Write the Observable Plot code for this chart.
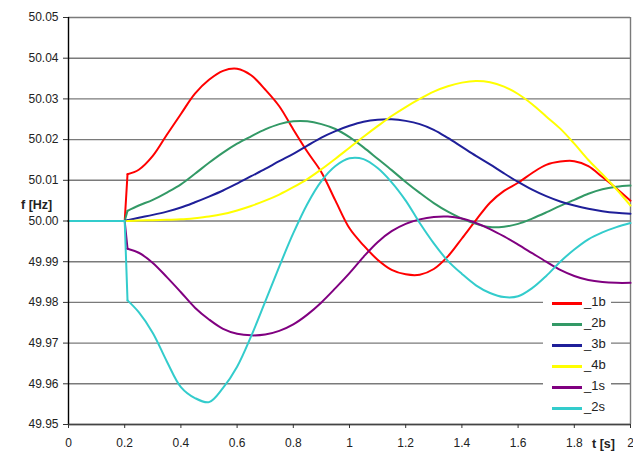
<!DOCTYPE html>
<html>
<head>
<meta charset="utf-8">
<script src="https://cdn.jsdelivr.net/npm/d3@7"></script>
<script src="https://cdn.jsdelivr.net/npm/@observablehq/plot@0.6"></script>
<style>
  html, body { margin: 0; padding: 0; background: #fff; }
  #wrap { position: relative; width: 633px; height: 452px; font-family: "Liberation Sans", Arial, sans-serif; color: #222; }
  #wrap svg { display: block; }
  #legend { position: absolute; left: 543px; top: 292px; width: 68px; height: 127px; background: #fff; }
  .lg-item { position: absolute; left: 0; width: 68px; height: 20px; }
  .lg-line { position: absolute; left: 9px; top: 9px; width: 30px; height: 2.5px; }
  .lg-text { position: absolute; left: 41px; top: 1px; font-size: 13px; line-height: 16px; color: #222; }
  .axis-title { position: absolute; font-weight: bold; font-size: 12.5px; color: #222; }
</style>
</head>
<body>
<div id="wrap">
  <div id="chart"></div>
  <div id="legend"></div>
  <div class="axis-title" style="left:21px; top:198px;">f [Hz]</div>
  <div class="axis-title" style="left:592px; top:437px;">t [s]</div>
</div>
<script>
// time axis (s)
const time = [0, 0.2, 0.21, 0.25, 0.3, 0.35, 0.4, 0.45, 0.5, 0.55, 0.6, 0.65, 0.7, 0.75, 0.8, 0.85, 0.9, 0.95,
  1.0, 1.05, 1.1, 1.15, 1.2, 1.25, 1.3, 1.35, 1.4, 1.45, 1.5, 1.55, 1.6, 1.65, 1.7, 1.75, 1.8, 1.85, 1.9, 1.95, 2.0];
const stepTime = 0.21; // end of the step change after the disturbance at 0.2 s

// frequency series (Hz)
const f1b = [50.0000, 50.0000, 50.0115, 50.0126, 50.0160, 50.0212, 50.0263, 50.0313, 50.0347, 50.0369, 50.0374, 50.0358,
  50.0323, 50.0282, 50.0225, 50.0170, 50.0120, 50.0050, 49.9982, 49.9940, 49.9905, 49.9880, 49.9869, 49.9868,
  49.9882, 49.9913, 49.9957, 50.0002, 50.0045, 50.0074, 50.0094, 50.0118, 50.0138, 50.0146, 50.0147, 50.0135,
  50.0108, 50.0080, 50.0050];
const f2b = [50.0000, 50.0000, 50.0025, 50.0038, 50.0052, 50.0070, 50.0090, 50.0116, 50.0143, 50.0168, 50.0190, 50.0208,
  50.0225, 50.0238, 50.0245, 50.0245, 50.0238, 50.0226, 50.0206, 50.0181, 50.0153, 50.0125, 50.0096, 50.0069,
  50.0044, 50.0023, 50.0006, 49.9993, 49.9985, 49.9986, 49.9993, 50.0006, 50.0021, 50.0037, 50.0052, 50.0067,
  50.0078, 50.0084, 50.0087];
const f3b = [50.0000, 50.0000, 50.0002, 50.0008, 50.0015, 50.0023, 50.0033, 50.0046, 50.0060, 50.0075, 50.0092, 50.0110,
  50.0128, 50.0147, 50.0165, 50.0185, 50.0205, 50.0221, 50.0234, 50.0244, 50.0249, 50.0250, 50.0246, 50.0238,
  50.0224, 50.0204, 50.0182, 50.0160, 50.0139, 50.0117, 50.0096, 50.0077, 50.0061, 50.0048, 50.0038, 50.0030,
  50.0024, 50.0020, 50.0018];
const f4b = [50.0000, 50.0000, 50.0000, 50.0001, 50.0002, 50.0003, 50.0004, 50.0007, 50.0011, 50.0017, 50.0026, 50.0037,
  50.0050, 50.0065, 50.0083, 50.0103, 50.0127, 50.0153, 50.0180, 50.0207, 50.0233, 50.0258, 50.0280, 50.0300,
  50.0318, 50.0331, 50.0340, 50.0344, 50.0341, 50.0330, 50.0312, 50.0287, 50.0257, 50.0227, 50.0190, 50.0150,
  50.0115, 50.0078, 50.0038];
const f1s = [50.0000, 50.0000, 49.9932, 49.9922, 49.9897, 49.9862, 49.9825, 49.9787, 49.9758, 49.9735, 49.9723, 49.9719,
  49.9721, 49.9730, 49.9746, 49.9770, 49.9800, 49.9835, 49.9872, 49.9912, 49.9948, 49.9975, 49.9993, 50.0004,
  50.0010, 50.0011, 50.0006, 49.9995, 49.9980, 49.9962, 49.9942, 49.9921, 49.9900, 49.9880, 49.9865, 49.9855,
  49.9850, 49.9848, 49.9848];
const f2s = [50.0000, 50.0000, 49.9805, 49.9776, 49.9725, 49.9655, 49.9592, 49.9565, 49.9555, 49.9590, 49.9642, 49.9717,
  49.9802, 49.9888, 49.9970, 50.0042, 50.0098, 50.0135, 50.0154, 50.0152, 50.0130, 50.0095, 50.0050, 49.9995,
  49.9945, 49.9902, 49.9870, 49.9842, 49.9823, 49.9813, 49.9815, 49.9835, 49.9865, 49.9900, 49.9930, 49.9955,
  49.9972, 49.9985, 49.9995];

const seriesNames = ["_1b", "_2b", "_3b", "_4b", "_1s", "_2s"];
const seriesColors = ["#ff0000", "#339966", "#1f1f99", "#ffff00", "#800080", "#33cccc"];
const seriesValues = [f1b, f2b, f3b, f4b, f1s, f2s];

const xTicks = [0, 0.2, 0.4, 0.6, 0.8, 1, 1.2, 1.4, 1.6, 1.8, 2];
const yTicks = [49.95, 49.96, 49.97, 49.98, 49.99, 50.00, 50.01, 50.02, 50.03, 50.04, 50.05];

const rows = [];
seriesNames.forEach((name, i) => {
  seriesValues[i].forEach((f, j) => rows.push({series: name, t: time[j], f}));
});
const rowsBefore = rows.filter(d => d.t <= stepTime);
const rowsAfter = rows.filter(d => d.t >= stepTime);

const chart = Plot.plot({
  width: 633,
  height: 452,
  marginLeft: 68,
  marginRight: 3,
  marginTop: 17,
  marginBottom: 28,
  style: {fontFamily: "'Liberation Sans', Arial, sans-serif", fontSize: "12px", color: "#222", background: "white", overflow: "visible"},
  x: {domain: [0, 2], label: null},
  y: {domain: [49.95, 50.05], label: null},
  color: {domain: seriesNames, range: seriesColors},
  marks: [
    Plot.gridY(yTicks, {stroke: "#7a7a7a", strokeOpacity: 1, strokeWidth: 1.4}),
    Plot.ruleX([2], {stroke: "#7a7a7a", strokeWidth: 1.4}),
    Plot.line(rowsBefore, {x: "t", y: "f", z: "series", stroke: "series", strokeWidth: 2, curve: "linear"}),
    Plot.line(rowsAfter, {x: "t", y: "f", z: "series", stroke: "series", strokeWidth: 2, curve: "catmull-rom"}),
    Plot.ruleX([0], {stroke: "#000", strokeWidth: 1.4}),
    Plot.ruleY([49.95], {stroke: "#444", strokeWidth: 1.4}),
    Plot.axisY(yTicks, {tickFormat: d => d.toFixed(2), tickSize: 5, tickPadding: 5, stroke: "#333", label: null}),
    Plot.axisX(xTicks, {tickFormat: d => String(d), tickSize: 4, tickPadding: 10, stroke: "#333", label: null})
  ]
});
document.getElementById("chart").appendChild(chart);

// legend
const legend = document.getElementById("legend");
const legendTops = [0, 1, 2, 3, 4, 5].map(i => 1 + i * 21);
seriesNames.forEach((name, i) => {
  const item = document.createElement("div");
  item.className = "lg-item";
  item.style.top = legendTops[i] + "px";
  const line = document.createElement("div");
  line.className = "lg-line";
  line.style.background = seriesColors[i];
  const txt = document.createElement("div");
  txt.className = "lg-text";
  txt.textContent = name;
  item.appendChild(line);
  item.appendChild(txt);
  legend.appendChild(item);
});
</script>
</body>
</html>
